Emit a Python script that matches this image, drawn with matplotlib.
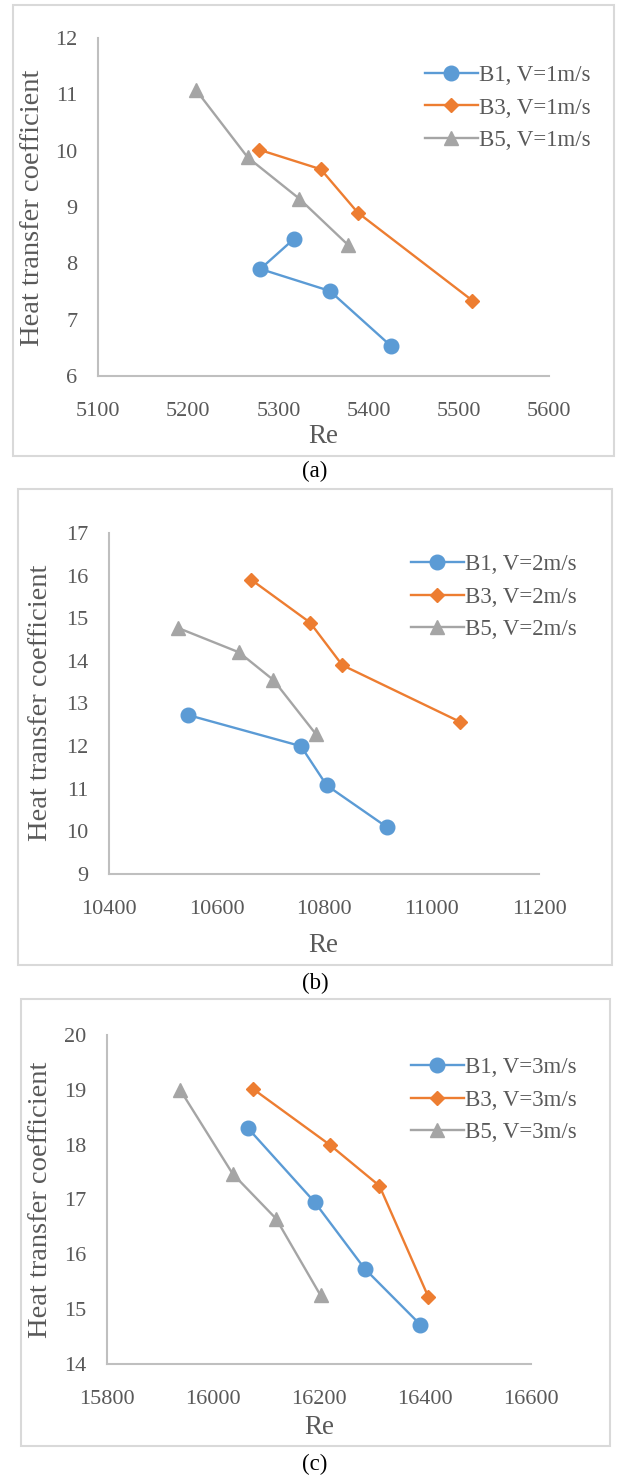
import matplotlib
matplotlib.use("Agg")
import matplotlib.pyplot as plt
from matplotlib.patches import Rectangle

# ---- data -------------------------------------------------------------
# (a) V = 1 m/s
re_a_b1 = [5317, 5280, 5357, 5425]
h_a_b1 = [8.43, 7.90, 7.51, 6.53]
re_a_b3 = [5278, 5347, 5388, 5515]
h_a_b3 = [10.02, 9.67, 8.90, 7.34]
re_a_b5 = [5209, 5266, 5323, 5377]
h_a_b5 = [11.07, 9.88, 9.15, 8.33]

# (b) V = 2 m/s
re_b_b1 = [10547, 10757, 10805, 10917]
h_b_b1 = [12.73, 12.00, 11.08, 10.10]
re_b_b3 = [10665, 10774, 10834, 11053]
h_b_b3 = [15.90, 14.90, 13.90, 12.57]
re_b_b5 = [10529, 10642, 10706, 10785]
h_b_b5 = [14.77, 14.20, 13.55, 12.28]

# (c) V = 3 m/s
re_c_b1 = [16066, 16192, 16286, 16391]
h_c_b1 = [18.30, 16.95, 15.74, 14.72]
re_c_b3 = [16075, 16220, 16314, 16406]
h_c_b3 = [19.02, 18.00, 17.25, 15.23]
re_c_b5 = [15938, 16037, 16119, 16203]
h_c_b5 = [19.00, 17.47, 16.65, 15.25]

xticks_a = [5100, 5200, 5300, 5400, 5500, 5600]
yticks_a = [6, 7, 8, 9, 10, 11, 12]
xticks_b = [10400, 10600, 10800, 11000, 11200]
yticks_b = [9, 10, 11, 12, 13, 14, 15, 16, 17]
xticks_c = [15800, 16000, 16200, 16400, 16600]
yticks_c = [14, 15, 16, 17, 18, 19, 20]

labels_a = ["B1, V=1m/s", "B3, V=1m/s", "B5, V=1m/s"]
labels_b = ["B1, V=2m/s", "B3, V=2m/s", "B5, V=2m/s"]
labels_c = ["B1, V=3m/s", "B3, V=3m/s", "B5, V=3m/s"]
captions = ["(a)", "(b)", "(c)"]

# ---- style ------------------------------------------------------------
W, H = 617, 1476
plt.rcParams["font.family"] = ["Liberation Serif", "DejaVu Serif"]
BLUE, ORANGE, GRAY = "#5B9BD5", "#ED7D31", "#A5A5A5"
TXT = "#595959"
SPINE = "#BFBFBF"

fig = plt.figure(figsize=(W / 100, H / 100), dpi=100)
fig.patch.set_facecolor("white")


def fx(px):
    return px / W


def fy(py):
    return 1 - py / H


def panel(axbox, frame, series, labels, xticks, yticks, legend_row_mid,
          legend_left, ylab_pos, re_pos, caption, caption_y):
    l, r, t, b = axbox
    ax = fig.add_axes([fx(l), fy(b), fx(r) - fx(l), fy(t) - fy(b)])
    markers = ["o", "D", "^"]
    msizes = [10.5, 7.5, 10]
    colors = [BLUE, ORANGE, GRAY]
    for (xs, ys), lab, m, ms, c in zip(series, labels, markers, msizes, colors):
        ax.plot(xs, ys, color=c, lw=1.7, marker=m, ms=ms, mfc=c, mec=c,
                label=lab, clip_on=False)
    ax.set_xlim(xticks[0], xticks[-1])
    ax.set_ylim(yticks[0], yticks[-1])
    ax.set_xticks(xticks)
    ax.set_yticks(yticks)
    ax.tick_params(length=0, labelsize=16, labelcolor=TXT)
    ax.tick_params(axis="y", pad=15)
    ax.tick_params(axis="x", pad=19)
    for s in ("top", "right"):
        ax.spines[s].set_visible(False)
    for s in ("left", "bottom"):
        ax.spines[s].set_color(SPINE)
        ax.spines[s].set_linewidth(1.5)
    fig.text(fx(ylab_pos[0]), fy(ylab_pos[1]), "Heat transfer coefficient",
             rotation=90, ha="center", va="center", fontsize=20.5, color=TXT)
    fig.text(fx(re_pos[0]), fy(re_pos[1]), "Re", ha="center", va="center",
             fontsize=19.5, color=TXT)
    ax.legend(loc="center left", bbox_to_anchor=(fx(legend_left), fy(legend_row_mid)),
              bbox_transform=fig.transFigure, frameon=False, fontsize=16.5,
              handlelength=2.3, handletextpad=0.05, borderpad=0,
              borderaxespad=0, labelspacing=0.5, labelcolor=TXT)
    fl, fr, ft, fb = frame
    fig.add_artist(Rectangle((fx(fl), fy(fb)), fx(fr) - fx(fl), fy(ft) - fy(fb),
                             transform=fig.transFigure, fill=False,
                             edgecolor="#D9D9D9", lw=1.5))
    fig.text(fx(315), fy(caption_y), caption, ha="center", va="center",
             fontsize=16.5, color="black")
    return ax


panel((98, 549, 38, 376), (13, 614, 5, 456),
      [(re_a_b1, h_a_b1), (re_a_b3, h_a_b3), (re_a_b5, h_a_b5)], labels_a,
      xticks_a, yticks_a, 108, 425, (33, 208), (323, 437), captions[0], 471)

panel((109, 539, 533, 874), (18, 612, 489, 965),
      [(re_b_b1, h_b_b1), (re_b_b3, h_b_b3), (re_b_b5, h_b_b5)], labels_b,
      xticks_b, yticks_b, 597, 411, (41, 703), (323, 945), captions[1], 983)

panel((107, 531, 1035, 1364), (21, 610, 999, 1446),
      [(re_c_b1, h_c_b1), (re_c_b3, h_c_b3), (re_c_b5, h_c_b5)], labels_c,
      xticks_c, yticks_c, 1100, 411, (41, 1200), (319, 1427), captions[2], 1464)

fig.savefig("out.png", dpi=100, facecolor="white")
